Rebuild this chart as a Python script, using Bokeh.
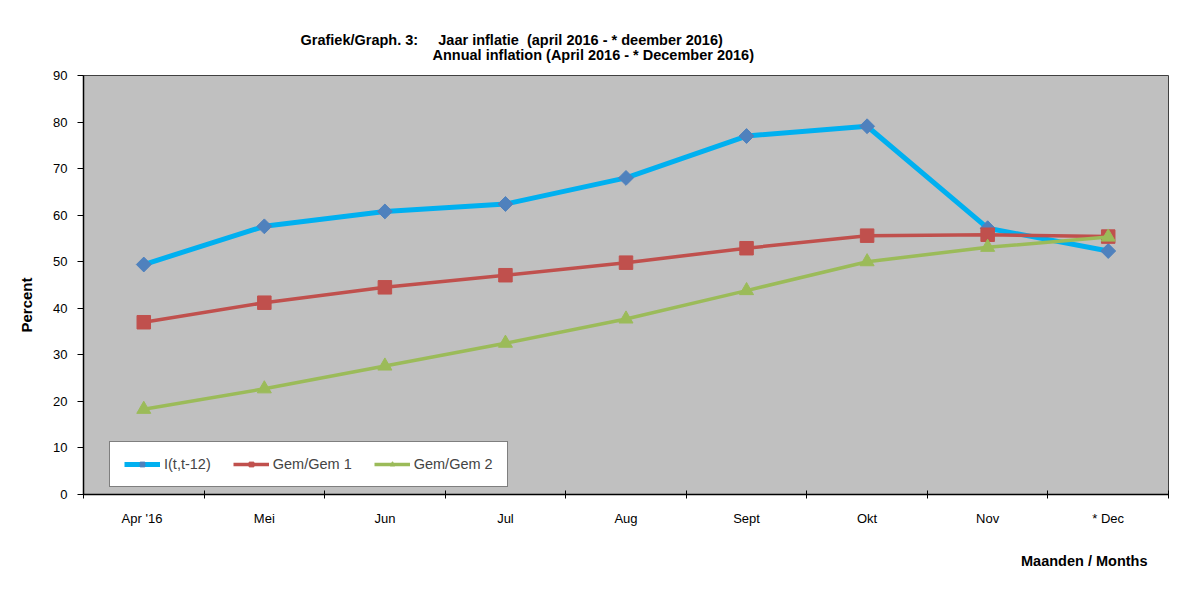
import numpy as np
from bokeh.plotting import figure
from bokeh.models import (Range1d, FixedTicker, Legend, LegendItem, Title)
from bokeh.embed import file_html
from bokeh.resources import INLINE

# ---- data ----
months = ["Apr  '16", "Mei", "Jun", "Jul", "Aug", "Sept", "Okt", "Nov", "* Dec"]
inflation_12 = [49.4, 57.6, 60.8, 62.4, 68.0, 77.0, 79.1, 57.2, 52.3]
gem1 = [37.0, 41.2, 44.5, 47.1, 49.8, 52.9, 55.6, 55.8, 55.4]
gem2 = [18.3, 22.7, 27.6, 32.5, 37.7, 43.8, 50.0, 53.1, 55.3]
series_names = ["I(t,t-12)", "Gem/Gem 1", "Gem/Gem 2"]
y_ticks = list(range(0, 91, 10))

NB = "\u00a0"
title_1 = "Grafiek/Graph. 3:" + NB * 5 + "Jaar inflatie" + NB * 2 + "(april 2016 - * deember 2016)"
title_2 = "Annual inflation (April 2016 - * December 2016)"
y_label = "Percent"
x_label = "Maanden / Months"

FONT = "Liberation Sans"

n = len(months)
xs = [i + 0.5 for i in range(n)]

p = figure(frame_width=1085, frame_height=419, output_backend="svg", toolbar_location=None,
           x_range=Range1d(0, n), y_range=Range1d(0, 90),
           min_border_left=83, min_border_right=35, min_border_top=75, min_border_bottom=103)
p.background_fill_color = "#C0C0C0"
p.border_fill_color = "white"
p.outline_line_color = "#404040"
p.outline_line_width = 1
p.xgrid.visible = False
p.ygrid.visible = False

# x axis: category labels at centres, tick marks between categories
xa = p.xaxis[0]
xa.ticker = FixedTicker(ticks=xs, minor_ticks=list(range(0, n + 1)))
xa.major_label_overrides = {x: m for x, m in zip(xs, months)}
xa.major_tick_in = 0
xa.major_tick_out = 0
xa.minor_tick_in = 4
xa.minor_tick_out = 4
xa.minor_tick_line_color = "black"
xa.axis_line_color = "black"
xa.axis_line_width = 1.5
xa.major_label_standoff = 12
xa.major_label_text_font = FONT
xa.major_label_text_font_size = "13px"
xa.major_label_text_color = "black"

ya = p.yaxis[0]
ya.ticker = FixedTicker(ticks=y_ticks, minor_ticks=[])
ya.major_tick_in = 0
ya.major_tick_out = 6
ya.major_tick_line_color = "black"
ya.axis_line_color = "black"
ya.axis_line_width = 1.5
ya.major_label_standoff = 10
ya.major_label_text_font = FONT
ya.major_label_text_font_size = "13px"
ya.major_label_text_color = "black"

# ---- series ----
l1 = p.line(xs, inflation_12, line_color="#00B0F0", line_width=5, line_join="round")
s1 = p.scatter(xs, inflation_12, marker="square", angle=np.pi / 4, size=10.5,
               fill_color="#4F81BD", line_color="#4F81BD")
l2 = p.line(xs, gem1, line_color="#C0504D", line_width=3.5, line_join="round")
s2 = p.scatter(xs, gem1, marker="square", size=13.5,
               fill_color="#C0504D", line_color="#C0504D")
l3 = p.line(xs, gem2, line_color="#9BBB59", line_width=3.5, line_join="round")
s3 = p.scatter(xs, gem2, marker="triangle", size=14,
               fill_color="#9BBB59", line_color="#9BBB59")

# ---- titles ----
def ttl(text, loc, align="left", offset=0, standoff=5, size="14.5px"):
    p.add_layout(Title(text=text, align=align, offset=offset, standoff=standoff,
                       text_font=FONT, text_font_size=size, text_font_style="bold",
                       text_color="black"), loc)

ttl(title_2, "above", offset=349, standoff=26)
ttl(title_1, "above", offset=217, standoff=-32)
ttl(y_label, "left", align="left", offset=162, standoff=31, size="15px")
ttl(x_label, "below", align="right", offset=21, standoff=44)

legend = Legend(items=[LegendItem(label=series_names[0], renderers=[l1, s1]),
                       LegendItem(label=series_names[1], renderers=[l2, s2]),
                       LegendItem(label=series_names[2], renderers=[l3, s3])],
                location=(26, 7), orientation="horizontal",
                padding=14, margin=0, spacing=22,
                glyph_width=36, glyph_height=12, label_height=12, label_standoff=4,
                label_text_font=FONT, label_text_font_size="14.5px",
                border_line_color="black", border_line_width=1,
                background_fill_color="white", background_fill_alpha=1)
p.add_layout(legend, "center")

open("out.html", "w").write(file_html(p, INLINE))
